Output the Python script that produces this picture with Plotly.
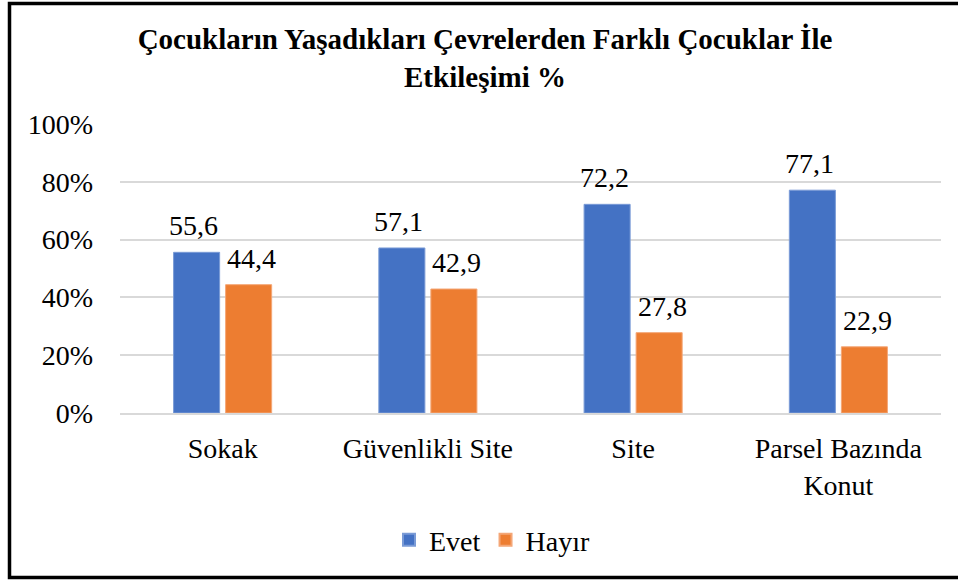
import plotly.graph_objects as go

categories = ["Sokak", "Güvenlikli Site", "Site", "Parsel Bazında<br>Konut"]
evet = [55.6, 57.1, 72.2, 77.1]
hayir = [44.4, 42.9, 27.8, 22.9]
series_names = ["Evet", "Hayır"]
tick_vals = [0, 20, 40, 60, 80, 100]
tick_text = ["0%", "20%", "40%", "60%", "80%", "100%"]
title_text = "Çocukların Yaşadıkları Çevrelerden Farklı Çocuklar İle<br>Etkileşimi %"

W, H = 958, 581
ML, MR, MT, MB = 120, 17, 124, 168
FONT = "Liberation Serif"

def fmt(v):
    return f"{v:.1f}".replace(".", ",")

fig = go.Figure()
fig.add_trace(go.Bar(x=categories, y=evet, name=series_names[0],
                     marker=dict(color="#4472C4", line=dict(color="#7A9BD6", width=1))))
fig.add_trace(go.Bar(x=categories, y=hayir, name=series_names[1],
                     marker=dict(color="#ED7D31", line=dict(color="#F4A676", width=1))))

for vals, shift in ((evet, -29), (hayir, 29)):
    for c, v in zip(categories, vals):
        fig.add_annotation(x=c, y=v, xref="x", yref="y", text=fmt(v), showarrow=False,
                           xshift=shift, yanchor="bottom", yshift=9,
                           font=dict(family=FONT, size=28, color="#000000"))

pw = W - ML - MR
ph = H - MT - MB
def px_x(x):
    return (x - ML) / pw
def px_y(y):
    return (H - MB - y) / ph

fig.add_shape(type="rect", xref="paper", yref="paper",
              x0=px_x(9.5), x1=px_x(975), y0=px_y(577.5), y1=px_y(3.5),
              line=dict(color="#000000", width=3.5), fillcolor="rgba(0,0,0,0)", layer="above")

fig.update_layout(
    width=W, height=H,
    margin=dict(l=ML, r=MR, t=MT, b=MB),
    paper_bgcolor="white", plot_bgcolor="white",
    barmode="group", bargap=0.493, bargroupgap=0.115,
    font=dict(family=FONT, size=28, color="#000000"),
    title=dict(text="<b>" + title_text + "</b>", x=485 / W, xanchor="center",
               y=1 - 49 / H, yanchor="top", yref="container",
               font=dict(family=FONT, size=29, color="#000000")),
    legend=dict(orientation="h", x=px_x(492), xanchor="center", y=px_y(540), yanchor="middle",
                font=dict(family=FONT, size=28, color="#000000"), itemsizing="constant",
                traceorder="normal"),
    showlegend=True,
)
fig.update_yaxes(range=[0, 100], tickvals=tick_vals, ticktext=tick_text,
                 showgrid=True, gridcolor="#D9D9D9", gridwidth=1.5, zeroline=False,
                 showline=False, ticks="", ticklabelstandoff=26,
                 tickfont=dict(family=FONT, size=28, color="#000000"))
fig.update_xaxes(showline=True, linecolor="#D9D9D9", linewidth=1.5, ticks="",
                 ticklabelstandoff=10, tickangle=0,
                 tickfont=dict(family=FONT, size=28, color="#000000"))

fig.write_html("out.html", config={"displayModeBar": False},
               post_script="document.body.style.margin='0px';")
